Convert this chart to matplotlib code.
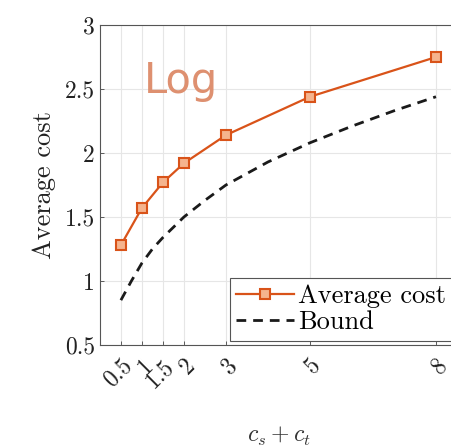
import matplotlib.pyplot as plt
import numpy as np

plt.rcParams['font.family'] = 'serif'
plt.rcParams['font.serif'] = ['cmr10', 'DejaVu Serif']
plt.rcParams['mathtext.fontset'] = 'cm'
plt.rcParams['axes.unicode_minus'] = False

# data
x_cost = [0.5, 1, 1.5, 2, 3, 5, 8]
avg_cost = [1.28, 1.57, 1.77, 1.92, 2.14, 2.44, 2.75]

x_bound = [0.5, 0.75, 1, 1.25, 1.5, 2, 2.5, 3, 4, 5, 6, 7, 8]
bound = [0.85, 1.00, 1.14, 1.25, 1.34, 1.50, 1.63, 1.75, 1.93, 2.08, 2.21, 2.33, 2.44]

xticks = [0.5, 1, 1.5, 2, 3, 5, 8]
xticklabels = ['0.5', '1', '1.5', '2', '3', '5', '8']
yticks = [0.5, 1, 1.5, 2, 2.5, 3]
yticklabels = ['0.5', '1', '1.5', '2', '2.5', '3']

fig = plt.figure(figsize=(4.52, 4.48), dpi=100)
ax = fig.add_axes([0.221, 0.23, 0.79, 0.714])

ax.plot(x_cost, avg_cost, '-s', color='#D95319', lw=1.6, ms=7.5,
        mfc='#F5B48E', mec='#D95319', mew=1.5, label='Average cost')
ax.plot(x_bound, bound, '--', color='#1a1a1a', lw=2.0, dashes=(3.5, 2.5),
        label='Bound')

ax.set_xlim(0, 8.5)
ax.set_ylim(0.5, 3)
ax.set_xticks(xticks)
ax.set_xticklabels(xticklabels, rotation=45, fontsize=17, ha='right',
                   rotation_mode='anchor')
ax.set_yticks(yticks)
ax.set_yticklabels(yticklabels, fontsize=17)
ax.tick_params(direction='in', length=3, width=0.6, colors='#444444', labelcolor='#222222')
ax.tick_params(axis='x', pad=7)
ax.grid(True, color='#e6e6e6', lw=0.8)

for s in ax.spines.values():
    s.set_color('#555555')
    s.set_linewidth(0.8)

ax.set_ylabel('Average cost', fontsize=19, color='#222222', labelpad=6)
ax.set_xlabel('$c_s + c_t$', fontsize=17, color='#333333', labelpad=24)

ax.text(1.05, 2.47, 'Log', fontsize=30, color='#DE9070', family='DejaVu Sans')

leg = ax.legend(loc='lower right', fontsize=19, fancybox=False, framealpha=1,
                edgecolor='#555555', borderpad=0.25, handlelength=2.2,
                handletextpad=0.15, labelspacing=0.1, borderaxespad=0.15)
leg.get_frame().set_linewidth(0.8)

fig.savefig('out.png', dpi=100)
